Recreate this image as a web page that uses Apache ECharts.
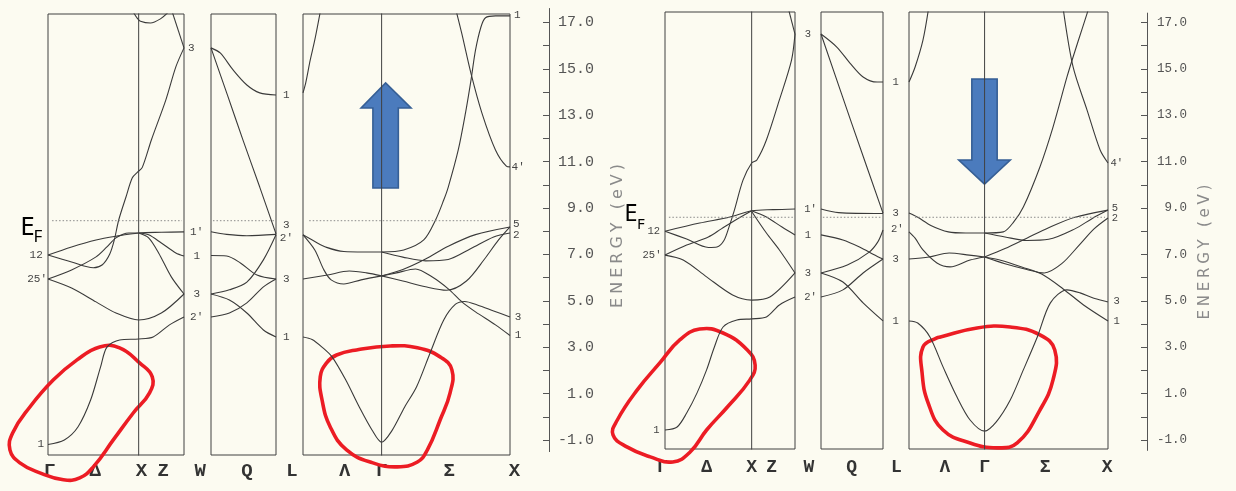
<!DOCTYPE html>
<html><head><meta charset="utf-8">
<script src="https://cdn.jsdelivr.net/npm/echarts@6/dist/echarts.min.js"></script>
<style>html,body{margin:0;padding:0;background:#fcfbf1;}#c{width:1236px;height:491px;}</style>
</head><body><div id="c"></div>
<script>
// ===== DATA (k in units of 2pi/a along each path segment, E in eV) =====
// Spin up (left figure)
const upGXW = [
  [[0,-1.2],[0.18,-1.0],[0.33,-0.44],[0.47,0.72],[0.58,2.15],[0.65,3.0],[0.79,3.31],[1.0,3.35],[1.16,3.44],[1.34,3.96],[1.5,4.3]],
  [[0,5.94],[0.26,5.55],[0.53,4.95],[0.75,4.47],[1.0,4.17],[1.25,4.47],[1.5,5.29]],
  [[0,5.94],[0.26,6.33],[0.53,6.89],[0.65,7.32],[0.75,7.71],[0.89,7.92],[1.0,7.92]],
  [[0,6.97],[0.26,6.67],[0.5,6.42],[0.6,6.55],[0.68,7.0],[0.73,7.6],[0.78,8.48],[0.86,9.47],[0.93,10.3],[0.99,10.55],[1.04,10.75],[1.14,11.93],[1.3,13.66],[1.41,15.08],[1.5,15.9]],
  [[0,6.97],[0.26,7.32],[0.53,7.62],[0.75,7.78],[1.0,7.92],[1.25,7.95],[1.5,7.97]],
  [[1.0,7.92],[1.11,7.84],[1.25,7.49],[1.41,7.06],[1.5,6.93]],
  [[1.0,7.92],[1.11,7.71],[1.22,7.06],[1.36,6.03],[1.5,5.29]],
  [[0.94,17.45],[0.98,17.2],[1.02,17.05],[1.13,16.97],[1.24,17.15],[1.33,17.45]],
  [[1.37,17.45],[1.5,15.9]]
];
const upWL = [
  [[0,15.9],[0.1,15.68],[0.24,14.95],[0.39,14.3],[0.53,13.96],[0.707,13.87]],
  [[0,15.9],[0.18,13.85],[0.35,11.9],[0.53,9.9],[0.707,7.88]],
  [[0,7.97],[0.17,7.86],[0.39,7.8],[0.707,7.86]],
  [[0,6.95],[0.17,6.93],[0.32,6.63],[0.5,6.11],[0.707,5.94]],
  [[0,5.29],[0.2,5.47],[0.39,5.8],[0.57,6.76],[0.707,7.84]],
  [[0,5.29],[0.2,5.03],[0.39,4.47],[0.57,3.74],[0.707,3.44]],
  [[0,4.3],[0.2,4.47],[0.39,4.91],[0.57,5.6],[0.707,5.94]]
];
const upLGX = [
  [[0,3.44],[0.1,3.33],[0.21,3.0],[0.32,2.58],[0.47,1.59],[0.62,0.42],[0.76,-0.57],[0.866,-1.1],[0.98,-0.6],[1.12,0.42],[1.25,1.28],[1.4,2.75],[1.55,4.17],[1.68,4.85],[1.78,4.97],[1.92,4.82],[2.1,4.56],[2.28,4.3]],
  [[0,13.96],[0.03,14.39],[0.08,15.38],[0.13,16.24],[0.19,17.45]],
  [[0,7.84],[0.13,7.55],[0.26,7.3],[0.45,7.12],[0.67,7.1],[0.866,7.1]],
  [[0,7.84],[0.13,7.19],[0.23,6.33],[0.31,5.9],[0.45,5.72],[0.64,5.9],[0.866,6.07]],
  [[0,5.94],[0.27,6.11],[0.51,6.28],[0.7,6.2],[0.866,6.07]],
  [[0.866,7.1],[1.11,7.19],[1.33,7.62],[1.46,8.48],[1.55,9.34],[1.6,9.9],[1.71,11.5],[1.79,13.1],[1.85,14.5],[1.9,15.8],[1.96,16.8],[2.01,17.2],[2.12,17.28],[2.28,17.28]],
  [[0.866,7.1],[1.1,6.88],[1.35,6.72],[1.6,6.78],[1.85,7.25],[2.1,7.75],[2.28,7.92]],
  [[0.866,6.07],[1.1,6.35],[1.35,6.8],[1.6,7.35],[1.9,7.85],[2.28,8.18]],
  [[0.866,6.07],[1.1,5.85],[1.35,5.6],[1.58,5.45],[1.8,5.85],[2.0,6.8],[2.15,7.6],[2.28,8.18]],
  [[0.866,6.07],[1.03,6.2],[1.24,6.37],[1.42,6.03],[1.6,5.51],[1.75,4.95],[1.9,4.52],[2.12,3.96],[2.28,3.5]],
  [[1.68,17.6],[1.75,16.5],[1.85,14.8],[1.97,13.1],[2.12,11.5],[2.24,10.8],[2.28,10.77]]
];
// Spin down (right figure)
const dnGXW = [
  [[0,-0.57],[0.14,-0.44],[0.25,0.16],[0.37,1.03],[0.48,2.02],[0.57,3.01],[0.67,3.87],[0.83,4.17],[1.0,4.22],[1.17,4.3],[1.32,4.82],[1.5,5.16]],
  [[0,6.97],[0.21,6.76],[0.48,6.03],[0.78,5.25],[1.0,5.03],[1.21,5.16],[1.5,6.2]],
  [[0,6.97],[0.25,7.4],[0.5,7.75],[0.65,8.1],[0.8,8.45],[1.0,8.88]],
  [[0,8.0],[0.25,7.66],[0.5,7.3],[0.6,7.32],[0.68,7.6],[0.74,8.2],[0.8,8.9],[0.9,10.2],[1.0,10.94],[1.06,11.07],[1.17,11.93],[1.32,13.66],[1.46,15.38],[1.5,16.5]],
  [[0,8.0],[0.4,8.35],[0.75,8.61],[1.0,8.88],[1.25,8.93],[1.5,8.96]],
  [[1.0,8.88],[1.17,8.61],[1.35,8.18],[1.5,7.84]],
  [[1.0,8.85],[1.17,7.92],[1.32,7.19],[1.5,6.2]],
  [[1.43,17.5],[1.5,16.5]]
];
const dnWL = [
  [[0,16.5],[0.18,15.94],[0.33,15.25],[0.48,14.65],[0.64,14.43],[0.707,14.43]],
  [[0,16.5],[0.35,12.65],[0.707,8.78]],
  [[0,8.96],[0.2,8.8],[0.707,8.76]],
  [[0,7.84],[0.25,7.62],[0.45,7.3],[0.6,7.0],[0.707,6.8]],
  [[0,6.2],[0.3,6.54],[0.55,7.1],[0.65,7.55],[0.707,8.05]],
  [[0,6.2],[0.25,5.81],[0.48,4.91],[0.707,4.13]],
  [[0,5.16],[0.25,5.47],[0.48,6.2],[0.707,6.8]]
];
const dnLGX = [
  [[0,4.13],[0.1,4.04],[0.24,3.44],[0.39,2.15],[0.55,0.85],[0.7,-0.14],[0.866,-0.62],[1.0,-0.22],[1.16,0.72],[1.31,2.02],[1.47,3.44],[1.62,4.91],[1.81,5.47],[1.96,5.34],[2.11,5.12],[2.28,4.95]],
  [[0,14.43],[0.07,15.08],[0.16,16.24],[0.22,17.5]],
  [[0,8.78],[0.1,8.6],[0.25,8.25],[0.45,7.97],[0.65,7.92],[0.866,7.92]],
  [[0,7.97],[0.07,7.7],[0.16,7.19],[0.32,6.63],[0.47,6.46],[0.7,6.76],[0.866,6.89]],
  [[0,6.8],[0.23,6.89],[0.46,7.06],[0.69,6.97],[0.866,6.89]],
  [[0.866,7.92],[1.08,7.97],[1.2,8.4],[1.31,9.04],[1.5,10.77],[1.65,12.49],[1.81,14.65],[1.88,15.51],[1.99,16.8],[2.05,17.5]],
  [[0.866,7.92],[1.1,7.75],[1.35,7.6],[1.6,7.65],[1.9,8.1],[2.1,8.55],[2.28,8.91]],
  [[0.866,6.89],[1.1,7.25],[1.35,7.7],[1.6,8.15],[1.9,8.6],[2.28,8.91]],
  [[0.866,6.89],[1.1,6.6],[1.35,6.35],[1.55,6.2],[1.75,6.6],[1.95,7.4],[2.12,8.1],[2.28,8.57]],
  [[0.866,6.89],[1.05,6.75],[1.3,6.45],[1.52,6.15],[1.77,5.5],[2.0,4.82],[2.28,4.13]],
  [[1.77,17.5],[1.88,15.08],[2.04,13.22],[2.19,11.5],[2.28,10.94]]
];
const EF_UP = 8.45, EF_DN = 8.6;
const energyTicks = [-1,0,1,2,3,4,5,6,7,8,9,10,11,12,13,14,15,16,17];
const energyLabels = [-1,1,3,5,7,9,11,13,15,17];
// k-point labels: [panel, k, text]
const kLabels = [
  [0,0.02,'Γ'],[0,0.52,'Δ'],[0,1.03,'X'],[0,1.27,'Z'],[0,1.68,'W'],[1,0.39,'Q'],[1,0.88,'L'],[2,0.46,'Λ'],[2,0.866,'Γ'],[2,1.61,'Σ'],[2,2.33,'X'],
  [3,-0.03,'Γ'],[3,0.48,'Δ'],[3,1.0,'X'],[3,1.23,'Z'],[3,1.66,'W'],[4,0.35,'Q'],[4,0.86,'L'],[5,0.41,'Λ'],[5,0.866,'Γ'],[5,1.56,'Σ'],[5,2.27,'X']
];
// symmetry labels: [panel, k, E, text]
const symLabels = [
  [0,-0.13,6.97,'12'],[0,-0.12,5.94,"25'"],[0,-0.08,-1.2,'1'],[0,1.58,15.9,'3'],[0,1.64,7.97,"1'"],[0,1.64,6.93,'1'],[0,1.64,5.29,'3'],[0,1.64,4.3,"2'"],
  [1,0.82,13.87,'1'],[1,0.82,8.25,'3'],[1,0.82,7.72,"2'"],[1,0.82,5.94,'3'],[1,0.82,3.44,'1'],
  [2,2.36,17.3,'1'],[2,2.37,10.77,"4'"],[2,2.35,8.3,'5'],[2,2.35,7.85,'2'],[2,2.37,4.3,'3'],[2,2.37,3.5,'1'],
  [3,-0.13,8.0,'12'],[3,-0.15,6.97,"25'"],[3,-0.1,-0.57,'1'],[3,1.65,16.5,'3'],[3,1.68,8.96,"1'"],[3,1.65,7.84,'1'],[3,1.65,6.2,'3'],[3,1.68,5.16,"2'"],
  [4,0.85,14.43,'1'],[4,0.85,8.78,'3'],[4,0.87,8.1,"2'"],[4,0.85,6.8,'3'],[4,0.85,4.13,'1'],
  [5,2.38,10.94,"4'"],[5,2.36,9.0,'5'],[5,2.36,8.55,'2'],[5,2.38,5.0,'3'],[5,2.38,4.13,'1']
];
// hand-drawn highlight loops (data coords of a panel)
const loopUp1 = [[0.57,3.01],[0.79,2.97],[1.01,2.32],[1.15,1.72],[1.12,1.03],[0.94,0.16],[0.72,-1.0],[0.5,-2.16],[0.35,-2.64],[0.17,-2.72],[-0.09,-2.42],[-0.31,-1.99],[-0.42,-1.43],[-0.39,-0.7],[-0.2,0.42],[0.06,1.59],[0.32,2.45]];
const loopUp2 = [[0.37,2.66],[0.59,2.88],[0.96,3.05],[1.26,2.97],[1.51,2.58],[1.64,2.02],[1.62,1.03],[1.51,-0.14],[1.37,-1.43],[1.26,-1.95],[1.04,-2.16],[0.77,-1.99],[0.48,-1.43],[0.3,-0.44],[0.21,0.72],[0.19,1.72],[0.26,2.32]];
const loopDn1 = [[0.4,3.78],[0.67,3.61],[0.95,2.88],[1.04,2.23],[0.98,1.59],[0.72,0.42],[0.48,-0.57],[0.29,-1.52],[0.09,-1.95],[-0.17,-1.73],[-0.44,-1.3],[-0.6,-0.78],[-0.55,-0.14],[-0.32,1.16],[-0.06,2.32],[0.17,3.31]];
const loopDn2 = [[0.36,3.44],[0.78,3.83],[1.16,3.87],[1.5,3.53],[1.67,2.88],[1.65,1.59],[1.5,0.29],[1.24,-1.13],[1.01,-1.34],[0.7,-1.13],[0.39,-0.57],[0.22,0.59],[0.15,1.89],[0.16,3.01],[0.32,3.4]];

// ===== LAYOUT =====
const panels = [
  {g:{left:48,top:14,width:136,height:441}, kmax:1.5, ymin:-1.65, ymax:17.36, bands:upGXW, sym:[1.0], ef:EF_UP},
  {g:{left:211,top:14,width:65,height:441}, kmax:0.707, ymin:-1.65, ymax:17.36, bands:upWL, sym:[], ef:EF_UP},
  {g:{left:303,top:14,width:207,height:441}, kmax:2.28, ymin:-1.65, ymax:17.36, bands:upLGX, sym:[0.866], ef:EF_UP},
  {g:{left:665,top:12,width:130,height:437}, kmax:1.5, ymin:-1.39, ymax:17.45, bands:dnGXW, sym:[1.0], ef:EF_DN},
  {g:{left:821,top:12,width:62,height:437}, kmax:0.707, ymin:-1.39, ymax:17.45, bands:dnWL, sym:[], ef:EF_DN},
  {g:{left:909,top:12,width:199,height:437}, kmax:2.28, ymin:-1.39, ymax:17.45, bands:dnLGX, sym:[0.866], ef:EF_DN}
];
const LINE = '#3a3a3a';
const grid=[], xAxis=[], yAxis=[], series=[];
panels.forEach((p,i)=>{
  grid.push(Object.assign({show:true,borderColor:'#404040',borderWidth:1,backgroundColor:'transparent'},p.g));
  xAxis.push({type:'value',gridIndex:i,min:0,max:p.kmax,show:false});
  yAxis.push({type:'value',gridIndex:i,min:p.ymin,max:p.ymax,show:false});
  p.bands.forEach(b=>series.push({type:'line',xAxisIndex:i,yAxisIndex:i,data:b,smooth:0.3,
    symbol:'none',silent:true,lineStyle:{color:LINE,width:1.1}}));
  p.sym.forEach(k=>series.push({type:'line',xAxisIndex:i,yAxisIndex:i,data:[[k,p.ymin-2],[k,p.ymax+2]],
    symbol:'none',silent:true,lineStyle:{color:'#404040',width:1}}));
  series.push({type:'line',xAxisIndex:i,yAxisIndex:i,data:[[p.kmax*0.03,p.ef],[p.kmax*0.985,p.ef]],
    symbol:'none',silent:true,lineStyle:{color:'#8a8a8a',width:1,type:[1.5,2]}});
});
// energy axes
const axes = [
  {g:{left:549,top:8.5,width:1,height:443.1}, min:-1.5, max:17.6, fs:15, margin:9},
  {g:{left:1147,top:13.1,width:1,height:437.3}, min:-1.45, max:17.4, fs:12.5, margin:10}
];
axes.forEach(a=>{
  const i = grid.length;
  grid.push(Object.assign({show:false},a.g));
  xAxis.push({type:'value',gridIndex:i,min:0,max:1,show:false});
  yAxis.push({type:'value',gridIndex:i,min:a.min,max:a.max,position:'left',
    axisLine:{show:true,lineStyle:{color:'#555',width:1}},
    axisTick:{show:true,inside:false,length:6,customValues:energyTicks,lineStyle:{color:'#555'}},
    axisLabel:{show:true,inside:true,margin:a.margin,customValues:energyLabels,
      formatter:v=>(Math.round(v*10)/10).toFixed(1).padStart(4,' '),
      fontFamily:'"Liberation Mono","DejaVu Sans Mono",monospace',fontSize:a.fs,color:'#555'},
    splitLine:{show:false}});
  series.push({type:'line',xAxisIndex:i,yAxisIndex:i,data:[],symbol:'none'});
});

const chart = echarts.init(document.getElementById('c'));
chart.setOption({animation:false,backgroundColor:'#fcfbf1',grid,xAxis,yAxis,series});

// ===== annotations =====
const px = (p,k,e)=>chart.convertToPixel({gridIndex:p},[k,e]);
const gr = [];
kLabels.forEach(([p,k,t])=>{
  const pt = px(p,k,p<3?-2.34:-2.2);
  gr.push({type:'text',silent:true,x:pt[0],y:pt[1],style:{text:t,textAlign:'center',textVerticalAlign:'middle',
    font:'bold '+(p<3?19:18)+'px "Liberation Mono","DejaVu Sans Mono",monospace',fill:'#333'}});
});
symLabels.forEach(([p,k,e,t])=>{
  const pt = px(p,k,e);
  gr.push({type:'text',silent:true,x:pt[0],y:pt[1],style:{text:t,textAlign:'center',textVerticalAlign:'middle',
    font:(p<3?11:10.5)+'px "Liberation Mono","DejaVu Sans Mono",monospace',fill:'#444'}});
});
[[0,loopUp1],[2,loopUp2],[3,loopDn1],[5,loopDn2]].forEach(([p,pts])=>{
  gr.push({type:'polygon',silent:true,shape:{points:pts.map(q=>px(p,q[0],q[1])),smooth:0.45},
    style:{fill:null,stroke:'#ec1c24',lineWidth:3.6}});
});
// blue arrows (in panel data coords)
function arrow(p,k0,k1,h0,h1,eShaftEnd,eHeadBase,eTip){
  const kc=(k0+k1)/2;
  const pts=[[k0,eShaftEnd],[k0,eHeadBase],[h0,eHeadBase],[kc,eTip],[h1,eHeadBase],[k1,eHeadBase],[k1,eShaftEnd]].map(q=>px(p,q[0],q[1]));
  gr.push({type:'polygon',silent:true,shape:{points:pts},style:{fill:'#4b7bbd',stroke:'#365f95',lineWidth:1.6}});
}
arrow(2,0.77,1.05,0.64,1.19,9.86,13.31,14.39);
arrow(5,0.72,1.01,0.57,1.16,14.56,11.07,10.03);
// E_F labels and axis titles
gr.push({type:'text',silent:true,x:27.5,y:228,style:{text:'E',textAlign:'center',textVerticalAlign:'middle',font:'26px "Noto Sans"',fill:'#000'}});
gr.push({type:'text',silent:true,x:38,y:237,style:{text:'F',textAlign:'center',textVerticalAlign:'middle',font:'17px "Noto Sans"',fill:'#000'}});
gr.push({type:'text',silent:true,x:631,y:214,style:{text:'E',textAlign:'center',textVerticalAlign:'middle',font:'24px "Noto Sans"',fill:'#000'}});
gr.push({type:'text',silent:true,x:641,y:225,style:{text:'F',textAlign:'center',textVerticalAlign:'middle',font:'15px "Noto Sans"',fill:'#000'}});
const title = 'E\u2005N\u2005E\u2005R\u2005G\u2005Y\u2005 \u2005(\u2005e\u2005V\u2005)';
gr.push({type:'text',silent:true,x:618,y:236,rotation:Math.PI/2,style:{text:title,textAlign:'center',textVerticalAlign:'middle',font:'16px "DejaVu Sans"',fill:'#8a8a8a'}});
gr.push({type:'text',silent:true,x:1205,y:252,rotation:Math.PI/2,style:{text:title,textAlign:'center',textVerticalAlign:'middle',font:'15px "DejaVu Sans"',fill:'#8a8a8a'}});
chart.setOption({graphic:gr});
</script></body></html>
